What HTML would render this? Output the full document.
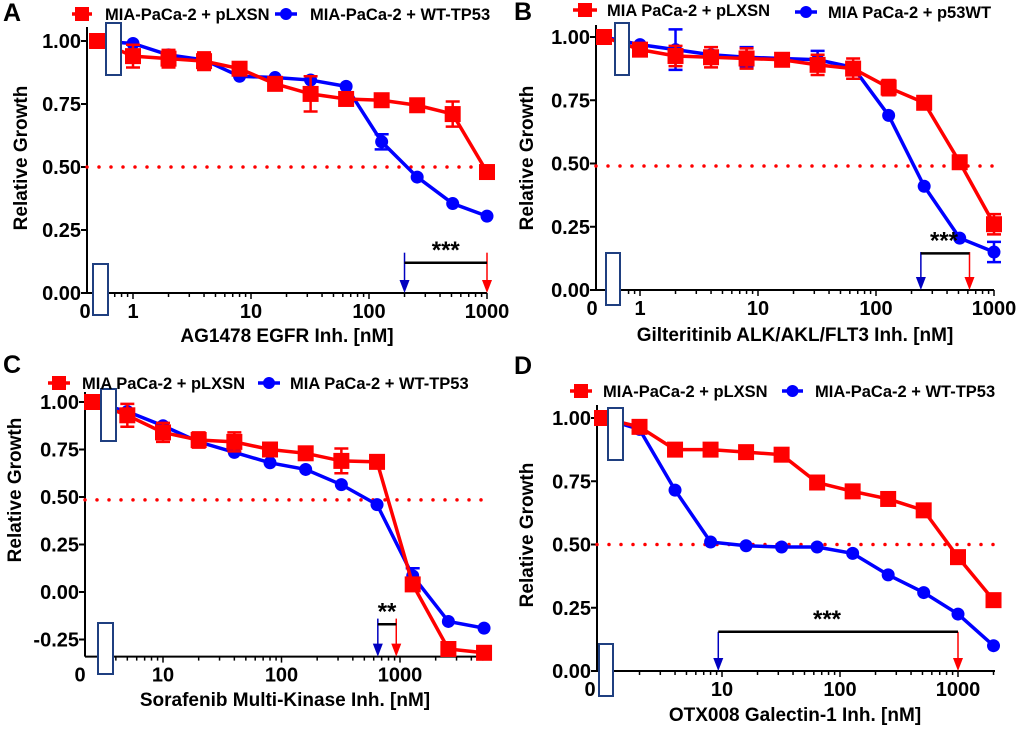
<!DOCTYPE html>
<html><head><meta charset="utf-8"><style>
html,body{margin:0;padding:0;background:#fff;}
svg{display:block;font-family:"Liberation Sans",Arial,sans-serif;font-weight:bold;}
</style></head><body>
<svg id="fig" width="1020" height="729" viewBox="0 0 1020 729" xmlns="http://www.w3.org/2000/svg"></svg>
<script>
// ---------- data ----------
const aX=[0,1,2,4,8,16,32,64,128,256,512,1000];
const aRed=[1.00,0.94,0.93,0.92,0.89,0.83,0.79,0.77,0.765,0.745,0.71,0.48];
const aRedErr=[0,0.045,0.035,0.035,0.01,0.01,0.07,0.01,0.01,0.01,0.05,0.01];
const aBlue=[1.00,0.99,0.945,0.925,0.86,0.855,0.845,0.82,0.60,0.46,0.355,0.305];
const aBlueErr=[0,0,0,0,0,0,0,0,0.03,0,0,0];
const aArrows=[200,1000];

const bX=[0,1,2,4,8,16,32,64,128,256,512,1000];
const bRed=[1.00,0.95,0.925,0.92,0.915,0.91,0.89,0.875,0.80,0.74,0.505,0.26];
const bRedErr=[0,0.02,0.04,0.04,0.04,0.01,0.04,0.04,0.03,0.01,0.01,0.04];
const bBlue=[1.00,0.97,0.95,0.93,0.92,0.915,0.91,0.88,0.69,0.41,0.205,0.15];
const bBlueErr=[0,0,0.08,0,0.04,0,0.035,0,0,0,0,0.04];
const bArrows=[240,620];

const cX=[0,5,10,20,40,80,160,320,640,1280,2560,5120];
const cRed=[1.00,0.93,0.84,0.80,0.79,0.75,0.73,0.69,0.685,0.04,-0.30,-0.32];
const cRedErr=[0,0.06,0.05,0.04,0.05,0.01,0.01,0.065,0.01,0.01,0.01,0.01];
const cBlue=[1.00,0.95,0.875,0.79,0.735,0.68,0.645,0.565,0.46,0.085,-0.155,-0.19];
const cBlueErr=[0,0,0,0,0,0,0,0,0,0.04,0,0];
const cArrows=[650,930];

const dX=[0,2,4,8,16,32,64,128,256,512,1000,2000];
const dRed=[1.00,0.965,0.875,0.875,0.865,0.855,0.745,0.71,0.68,0.635,0.45,0.28];
const dRedErr=[0,0,0,0,0,0,0,0,0,0,0,0];
const dBlue=[1.00,0.955,0.715,0.51,0.495,0.49,0.49,0.465,0.38,0.31,0.225,0.10];
const dBlueErr=[0,0,0,0,0,0,0,0,0,0,0,0];
const dArrows=[9.3,1000];

const ticks4=[0,0.25,0.5,0.75,1];
const ticks5=[-0.25,0,0.25,0.5,0.75,1];
const tickLabels4=["0.00","0.25","0.50","0.75","1.00"];
const tickLabels5=["-0.25","0.00","0.25","0.50","0.75","1.00"];

// ---------- drawing ----------
const NS="http://www.w3.org/2000/svg";
const svg=document.getElementById('fig');
function el(tag,attrs,parent,text){const e=document.createElementNS(NS,tag);for(const k in attrs)e.setAttribute(k,attrs[k]);if(text!==undefined)e.textContent=text;(parent||svg).appendChild(e);return e;}

function panel(P){
  const g=el('g',{});
  
  
  const Y=v=>P.y0-v*(P.y0-P.y1);
  const X=x=>x===0?P.zeroPx:P.p1+Math.log10(x)*P.dec;
  const yBot=Y(P.yMin);
  const L=el('text',{x:P.letter[0],y:P.letter[1],'font-size':25,fill:'#000'},g,P.id.toUpperCase());
  
  const ya=el('line',{x1:P.ax,y1:P.top,x2:P.ax,y2:yBot,stroke:'#000','stroke-width':2},g);
  
  const xa=el('line',{x1:P.ax,y1:yBot,x2:P.xr,y2:yBot,stroke:'#000','stroke-width':2},g);
  
  P.yt.forEach((v,i)=>{
    el('line',{x1:P.ax-6,y1:Y(v),x2:P.ax,y2:Y(v),stroke:'#000','stroke-width':2},g);
    const t=el('text',{x:P.ax-6,y:Y(v)+7,'text-anchor':'end','font-size':20,fill:'#000'},g,P.ytl[i]);
    
  });
  for(let d=-1;d<=4;d++){for(let m=1;m<=9;m++){const v=m*Math.pow(10,d);const px=X(v);
    if(px<P.minTick||px>P.xr+1)continue;
    el('line',{x1:px,y1:yBot,x2:px,y2:yBot+(m===1?6:4),stroke:'#000','stroke-width':1.5},g);}}
  P.xl.forEach(v=>{const t=el('text',{x:X(v),y:yBot+25,'text-anchor':'middle','font-size':20,fill:'#000'},g,String(v));
    });
  const z=el('text',{x:P.zeroPx-12,y:yBot+25,'text-anchor':'middle','font-size':20,fill:'#000'},g,'0');
  
  const xt=el('text',{x:P.xtitle[0],y:P.xtitle[1],'text-anchor':'middle','font-size':19,fill:'#000'},g,P.xtitleText);
  
  const yt=el('text',{x:0,y:0,'text-anchor':'middle','font-size':19,fill:'#000',transform:`translate(${P.ytitle[0]},${P.ytitle[1]}) rotate(-90)`},g,'Relative Growth');
  
  const hl=el('line',{x1:P.ax,y1:Y(P.half),x2:P.xr,y2:Y(P.half),stroke:'#f00','stroke-width':3.5,'stroke-dasharray':'0 12','stroke-linecap':'round'},g);
  
  function series(xs,ys,err,color,shape,name){
    const pts=xs.map((x,i)=>X(x)+','+Y(ys[i])).join(' ');
    const pl=el('polyline',{points:pts,fill:'none',stroke:color,'stroke-width':3.5},g);
    
    xs.forEach((x,i)=>{const cx=X(x),cy=Y(ys[i]);
      if(err[i]>0.012){const e1=Y(ys[i]+err[i]),e2=Y(ys[i]-err[i]);
        const eb=el('path',{d:`M${cx},${e1}V${e2}M${cx-7},${e1}H${cx+7}M${cx-7},${e2}H${cx+7}`,stroke:color,'stroke-width':2.5,fill:'none'},g);
        }
      let m;
      if(shape==='sq')m=el('rect',{x:cx-8,y:cy-8,width:16,height:16,fill:color},g);
      else m=el('circle',{cx:cx,cy:cy,r:6.5,fill:color},g);
      
    });
  }
  series(P.xs,P.blue,P.blueErr,'#0000ff','ci','wt-tp53');
  series(P.xs,P.red,P.redErr,'#ff0000','sq','plxsn');
  P.boxes.forEach(b=>{const r=el('rect',{x:b[0],y:b[1],width:b[2],height:b[3],fill:'#fff',stroke:'#1f3f80','stroke-width':2},g);
    });
  const bx=X(P.arr[0]),rx=X(P.arr[1]),yb=Y(P.barY),ys=Y(P.arrTop);
  [[bx,'#0000c0'],[rx,'#ff0000']].forEach(([x,c])=>{
    el('line',{x1:x,y1:ys,x2:x,y2:yBot-10,stroke:c,'stroke-width':1.5},g);
    const a=el('path',{d:`M${x-5},${yBot-13}L${x+5},${yBot-13}L${x},${yBot}Z`,fill:c},g);
    
  });
  const sb=el('line',{x1:bx,y1:yb,x2:rx,y2:yb,stroke:'#000','stroke-width':2.5},g);
  
  const st=el('text',{x:P.starX!==undefined?P.starX:(bx+rx)/2,y:yb-5,'text-anchor':'middle','font-size':24,fill:'#000'},g,P.stars);
  
  const lg=el('g',{},g);
  const [rx0,rx1,ry]=P.legR,[bx0,bx1,by]=P.legB;
  el('line',{x1:rx0,y1:ry,x2:rx1,y2:ry,stroke:'#f00','stroke-width':3.5},lg);
  el('rect',{x:(rx0+rx1)/2-7,y:ry-7,width:14,height:14,fill:'#f00'},lg);
  const t1=el('text',{x:P.legRT,y:ry+6,'font-size':16.5,fill:'#000'},lg,P.legRText);
  
  el('line',{x1:bx0,y1:by,x2:bx1,y2:by,stroke:'#00f','stroke-width':3.5},lg);
  el('circle',{cx:(bx0+bx1)/2,cy:by,r:6,fill:'#00f'},lg);
  const t2=el('text',{x:P.legBT,y:by+6,'font-size':16.5,fill:'#000'},lg,P.legBText);
  
}

panel({id:'a',letter:[3,21],ax:87,top:27,xr:487,y0:293,y1:41,yMin:0,p1:133,dec:118,zeroPx:97,minTick:110,
  yt:ticks4,ytl:tickLabels4,xl:[1,10,100,1000],xtitle:[287,342],xtitleText:'AG1478 EGFR Inh. [nM]',ytitle:[27,158],
  half:0.5,xs:aX,red:aRed,redErr:aRedErr,blue:aBlue,blueErr:aBlueErr,arr:aArrows,barY:0.12,arrTop:0.16,stars:'***',
  boxes:[[106,23,15,52],[93,264,15,51]],legR:[72,92,14],legRT:105,legRText:'MIA-PaCa-2 + pLXSN',legB:[275,297,14],legBT:310,legBText:'MIA-PaCa-2 + WT-TP53'});
panel({id:'b',letter:[514,20],ax:596,top:25,xr:994,y0:290,y1:37,yMin:0,p1:640,dec:118,zeroPx:604,minTick:622,
  yt:ticks4,ytl:tickLabels4,xl:[1,10,100,1000],xtitle:[795,341],xtitleText:'Gilteritinib ALK/AKL/FLT3 Inh. [nM]',ytitle:[533,158],
  half:0.49,xs:bX,red:bRed,redErr:bRedErr,blue:bBlue,blueErr:bBlueErr,arr:bArrows,barY:0.145,arrTop:0.15,stars:'***',starX:944,
  boxes:[[615,23,14,52],[606,253,14,52]],legR:[573,597,10],legRT:607,legRText:'MIA PaCa-2 + pLXSN',legB:[795,817,12],legBT:828,legBText:'MIA PaCa-2 + p53WT'});
panel({id:'c',letter:[3,373],ax:85,top:392,xr:485,y0:592,y1:402,yMin:-0.34,p1:44.5,dec:118.5,zeroPx:92,minTick:115,
  yt:ticks5,ytl:tickLabels5,xl:[10,100,1000],xtitle:[285,706],xtitleText:'Sorafenib Multi-Kinase Inh. [nM]',ytitle:[21,490],
  half:0.485,xs:cX,red:cRed,redErr:cRedErr,blue:cBlue,blueErr:cBlueErr,arr:cArrows,barY:-0.17,arrTop:-0.14,stars:'**',
  boxes:[[101,389,15,52],[98,623,15,51]],legR:[48,70,383],legRT:82,legRText:'MIA PaCa-2 + pLXSN',legB:[258,280,383],legBT:290,legBText:'MIA PaCa-2 + WT-TP53'});
panel({id:'d',letter:[514,374],ax:597,top:405,xr:995,y0:671,y1:418,yMin:0,p1:604,dec:118,zeroPx:602,minTick:625,
  yt:ticks4,ytl:tickLabels4,xl:[10,100,1000],xtitle:[795,721],xtitleText:'OTX008 Galectin-1 Inh. [nM]',ytitle:[533,535],
  half:0.5,xs:dX,red:dRed,redErr:dRedErr,blue:dBlue,blueErr:dBlueErr,arr:dArrows,barY:0.155,arrTop:0.155,stars:'***',starX:827,
  boxes:[[608,408,15,52],[599,644,14,52]],legR:[570,592,391],legRT:603,legRText:'MIA-PaCa-2 + pLXSN',legB:[782,803,391],legBT:815,legBText:'MIA-PaCa-2 + WT-TP53'});
</script>
</body></html>
